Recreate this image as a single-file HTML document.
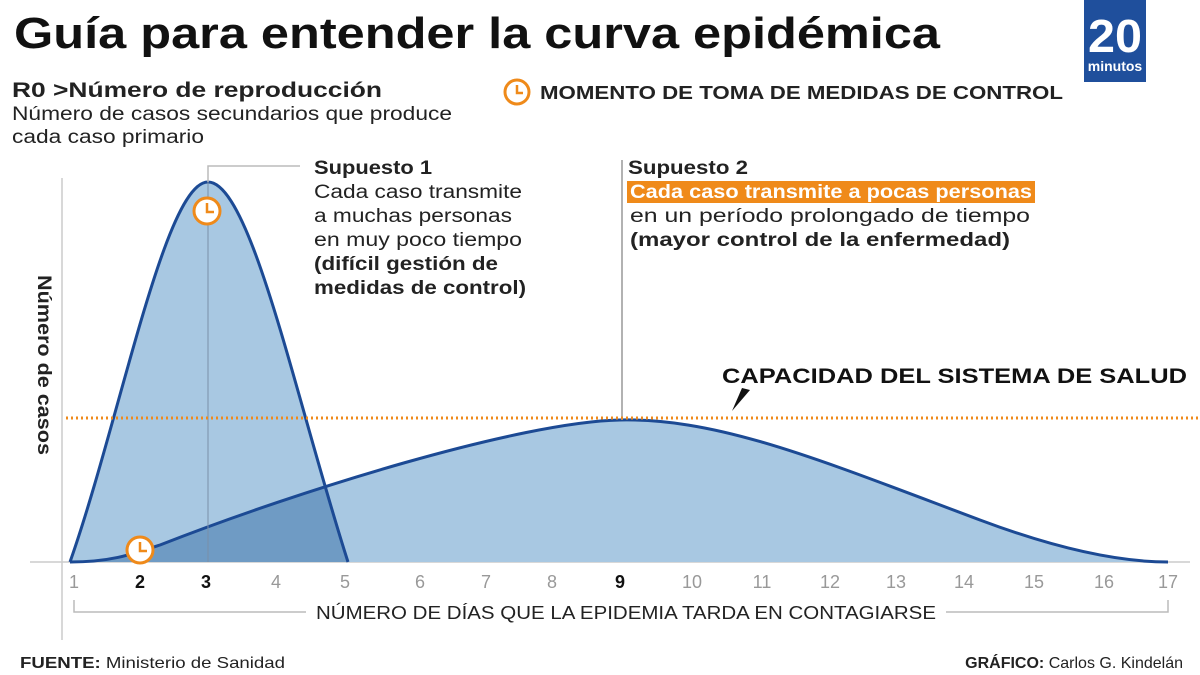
<!DOCTYPE html>
<html><head><meta charset="utf-8"><style>
body{margin:0;background:#fff;width:1200px;height:675px;overflow:hidden;font-family:"Liberation Sans",sans-serif}
svg{position:absolute;left:0;top:0}
</style></head><body>
<svg width="1200" height="675" viewBox="0 0 1200 675" font-family="Liberation Sans, sans-serif">
<defs>
<clipPath id="c1"><path d="M70,562 C120,420 165,182 208,182 C251,182 296,400 348,562 Z"/></clipPath>
</defs>
<text x="14" y="48" font-size="44" font-weight="bold" fill="#111" textLength="926" lengthAdjust="spacingAndGlyphs">Guía para entender la curva epidémica</text>
<rect x="1084" y="0" width="62" height="82" fill="#1f4f9c"/>
<text x="1115" y="52" font-size="46" font-weight="bold" fill="#fff" text-anchor="middle" textLength="54" lengthAdjust="spacingAndGlyphs">20</text>
<text x="1115" y="71" font-size="14" font-weight="bold" fill="#fff" text-anchor="middle">minutos</text>
<text x="12" y="97" font-size="21" font-weight="bold" fill="#222" textLength="370" lengthAdjust="spacingAndGlyphs">R0 &gt;Número de reproducción</text>
<text x="12" y="120" font-size="19" fill="#222" textLength="440" lengthAdjust="spacingAndGlyphs">Número de casos secundarios que produce</text>
<text x="12" y="143" font-size="19" fill="#222" textLength="192" lengthAdjust="spacingAndGlyphs">cada caso primario</text>
<circle cx="517" cy="92" r="12" fill="none" stroke="#ef8a1a" stroke-width="3"/>
<path d="M517,85 V93 H523" fill="none" stroke="#ef8a1a" stroke-width="2.5"/>
<text x="540" y="99" font-size="18" font-weight="bold" fill="#222" textLength="523" lengthAdjust="spacingAndGlyphs">MOMENTO DE TOMA DE MEDIDAS DE CONTROL</text>
<line x1="62" y1="178" x2="62" y2="640" stroke="#ccc" stroke-width="1.5"/>
<line x1="30" y1="562" x2="1190" y2="562" stroke="#ccc" stroke-width="1.5"/>
<text transform="translate(38,365) rotate(90)" font-size="19" font-weight="bold" fill="#222" text-anchor="middle" textLength="180" lengthAdjust="spacingAndGlyphs">Número de casos</text>
<path d="M70,562 C120,420 165,182 208,182 C251,182 296,400 348,562 Z" fill="#a8c8e2"/>
<path d="M70,562 C110,562 130,555 160,545 C300,490 520,422 620,420 C720,418 820,460 980,520 C1060,550 1120,562 1168,562 Z" fill="#a8c8e2"/>
<path d="M70,562 C110,562 130,555 160,545 C300,490 520,422 620,420 L620,562 Z" fill="#6f9bc4" clip-path="url(#c1)"/>
<path d="M70,562 C110,562 130,555 160,545 C300,490 520,422 620,420 C720,418 820,460 980,520 C1060,550 1120,562 1168,562" fill="none" stroke="#1c4a94" stroke-width="3"/>
<path d="M70,562 C120,420 165,182 208,182 C251,182 296,400 348,562" fill="none" stroke="#1c4a94" stroke-width="3"/>
<line x1="208" y1="182" x2="208" y2="562" stroke="#7a8fa8" stroke-width="1"/>
<polyline points="208,182 208,166 300,166" fill="none" stroke="#bbb" stroke-width="1.5"/>
<line x1="622" y1="160" x2="622" y2="420" stroke="#999" stroke-width="1.5"/>
<line x1="66" y1="418" x2="1200" y2="418" stroke="#ef8a1a" stroke-width="3" stroke-dasharray="2,3"/>
<circle cx="207" cy="211" r="13" fill="#fff" stroke="#ef8a1a" stroke-width="3"/>
<path d="M207,203 V212 H214" fill="none" stroke="#ef8a1a" stroke-width="2.5"/>
<circle cx="140" cy="550" r="13" fill="#fff" stroke="#ef8a1a" stroke-width="3"/>
<path d="M140,542 V551 H147" fill="none" stroke="#ef8a1a" stroke-width="2.5"/>
<g font-size="19" fill="#222" lengthAdjust="spacingAndGlyphs">
<text x="314" y="174" font-weight="bold" textLength="118" lengthAdjust="spacingAndGlyphs">Supuesto 1</text>
<text x="314" y="198" textLength="208" lengthAdjust="spacingAndGlyphs">Cada caso transmite</text>
<text x="314" y="222" textLength="198" lengthAdjust="spacingAndGlyphs">a muchas personas</text>
<text x="314" y="246" textLength="208" lengthAdjust="spacingAndGlyphs">en muy poco tiempo</text>
<text x="314" y="270" font-weight="bold" textLength="184" lengthAdjust="spacingAndGlyphs">(difícil gestión de</text>
<text x="314" y="294" font-weight="bold" textLength="212" lengthAdjust="spacingAndGlyphs">medidas de control)</text>
<text x="628" y="174" font-weight="bold" textLength="120" lengthAdjust="spacingAndGlyphs">Supuesto 2</text>
<rect x="627" y="181" width="408" height="22" fill="#ef8a1a"/>
<text x="630" y="198" fill="#fff" font-weight="bold" textLength="402" lengthAdjust="spacingAndGlyphs">Cada caso transmite a pocas personas</text>
<text x="630" y="222" textLength="400" lengthAdjust="spacingAndGlyphs">en un período prolongado de tiempo</text>
<text x="630" y="246" font-weight="bold" textLength="380" lengthAdjust="spacingAndGlyphs">(mayor control de la enfermedad)</text>
</g>
<text x="722" y="383" font-size="21" font-weight="bold" fill="#111" textLength="465" lengthAdjust="spacingAndGlyphs">CAPACIDAD DEL SISTEMA DE SALUD</text>
<path d="M742,388 L732,411 L750,390 Z" fill="#111"/>
<g font-size="18" fill="#999" text-anchor="middle">
<text x="74" y="588">1</text><text x="140" y="588" fill="#111" font-weight="bold">2</text><text x="206" y="588" fill="#111" font-weight="bold">3</text>
<text x="276" y="588">4</text><text x="345" y="588">5</text><text x="420" y="588">6</text><text x="486" y="588">7</text><text x="552" y="588">8</text>
<text x="620" y="588" fill="#111" font-weight="bold">9</text><text x="692" y="588">10</text><text x="762" y="588">11</text><text x="830" y="588">12</text>
<text x="896" y="588">13</text><text x="964" y="588">14</text><text x="1034" y="588">15</text><text x="1104" y="588">16</text><text x="1168" y="588">17</text>
</g>
<polyline points="74,600 74,612 1168,612 1168,600" fill="none" stroke="#bbb" stroke-width="1.5"/>
<rect x="306" y="600" width="640" height="24" fill="#fff"/>
<text x="626" y="619" font-size="18" fill="#222" text-anchor="middle" textLength="620" lengthAdjust="spacingAndGlyphs">NÚMERO DE DÍAS QUE LA EPIDEMIA TARDA EN CONTAGIARSE</text>
<text x="20" y="668" font-size="16" fill="#222" textLength="265" lengthAdjust="spacingAndGlyphs"><tspan font-weight="bold">FUENTE:</tspan> Ministerio de Sanidad</text>
<text x="1183" y="668" font-size="16" fill="#222" text-anchor="end"><tspan font-weight="bold">GRÁFICO:</tspan> Carlos G. Kindelán</text>
</svg>
</body></html>
